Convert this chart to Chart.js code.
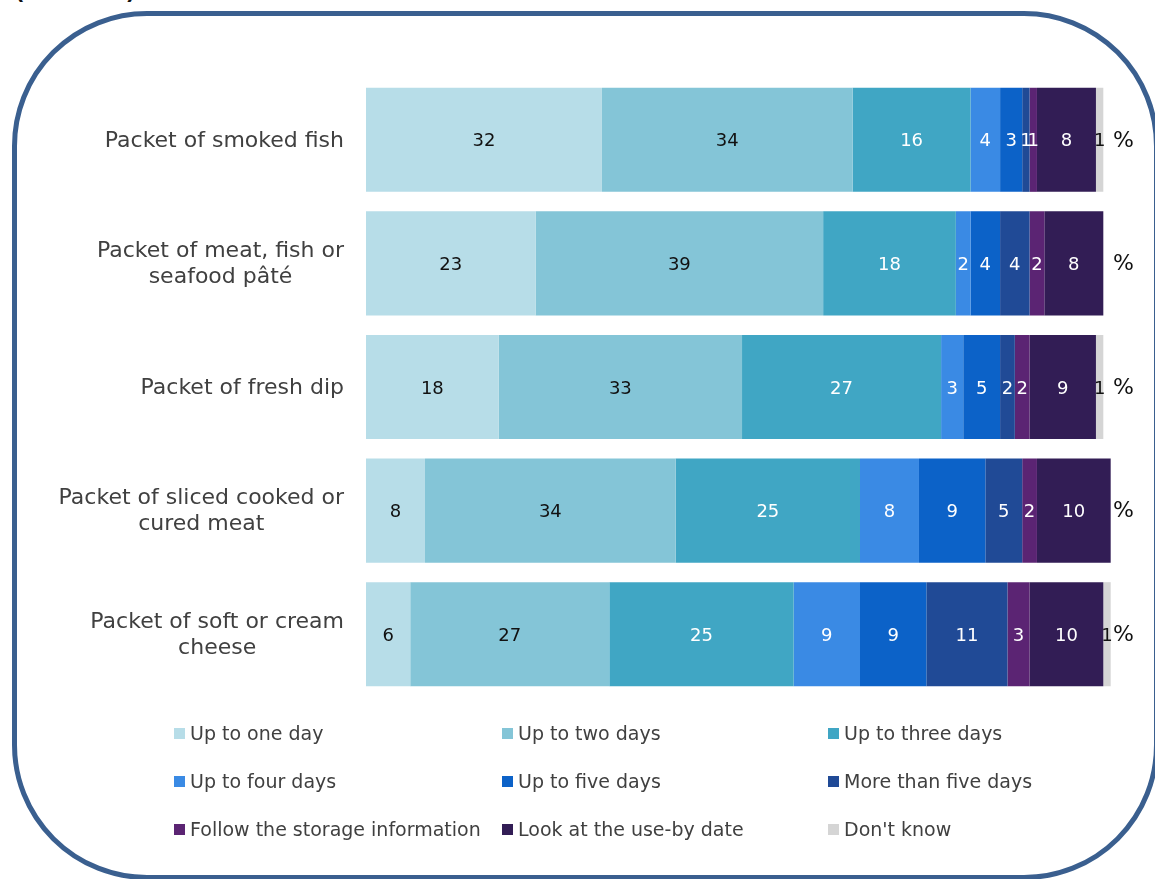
<!DOCTYPE html>
<html>
<head>
<meta charset="utf-8">
<title>Storage times for chilled packets</title>
<script src="https://cdn.jsdelivr.net/npm/chart.js@4.4.1/dist/chart.umd.min.js"></script>
<style>
  html, body { margin: 0; padding: 0; background: #fff; overflow: hidden; }
  body { width: 1155px; height: 879px; position: relative; font-family: 'DejaVu Sans', Verdana, sans-serif; }
  #topNote { position: absolute; left: 15px; top: -19px; font-size: 21px; font-weight: bold; line-height: 22px; color: #111; }
  #frame {
    position: absolute; left: 12px; top: 11px; width: 1147px; height: 869px;
    box-sizing: border-box; border: 5px solid #3A5F8F; border-radius: 135px;
  }
  #wrap { position: absolute; left: 0; top: 0; width: 1155px; height: 879px; }
  #legend {
    position: absolute; left: 174px; top: 709px;
    display: grid; grid-template-columns: 328px 326px 300px; grid-auto-rows: 48px;
    font-size: 19px; color: #404040;
  }
  .item { display: flex; align-items: center; white-space: nowrap; }
  .swatch { width: 11px; height: 11px; margin-right: 5px; flex: none; }
</style>
</head>
<body>
<div id="topNote">(Base: all)</div>
<div id="frame"></div>
<div id="wrap"><canvas id="storageChart"></canvas></div>
<div id="legend"></div>

<script>
// categories and answer shares (%)
const categories = [
  'Packet of smoked fish',
  ['Packet of meat, fish or', 'seafood pâté'],
  'Packet of fresh dip',
  ['Packet of sliced cooked or', 'cured meat'],
  ['Packet of soft or cream', 'cheese']
];

const seriesNames = [
  'Up to one day', 'Up to two days', 'Up to three days',
  'Up to four days', 'Up to five days', 'More than five days',
  'Follow the storage information', 'Look at the use-by date', "Don't know"
];

const upToOneDay      = [32, 23, 18, 8, 6];
const upToTwoDays     = [34, 39, 33, 34, 27];
const upToThreeDays   = [16, 18, 27, 25, 25];
const upToFourDays    = [4, 2, 3, 8, 9];
const upToFiveDays    = [3, 4, 5, 9, 9];
const moreThanFive    = [1, 4, 2, 5, 11];
const followStorage   = [1, 2, 2, 2, 3];
const lookAtUseBy     = [8, 8, 9, 10, 10];
const dontKnow        = [1, 0, 1, 0, 1];

const seriesValues = [upToOneDay, upToTwoDays, upToThreeDays, upToFourDays,
  upToFiveDays, moreThanFive, followStorage, lookAtUseBy, dontKnow];

const colors = ['#B7DDE8', '#84C5D7', '#40A6C4', '#3A8AE4', '#0C62C8',
  '#204A96', '#5B2473', '#321D55', '#D5D5D5'];

// light segments get dark numbers
const darkText = [0, 1, 8];

const FONT = "'DejaVu Sans', Verdana, sans-serif";

// numbers inside segments, "%" after each bar, wrapped category labels
const barText = {
  id: 'barText',
  afterDatasetsDraw(chart) {
    const { ctx, chartArea } = chart;
    const yScale = chart.scales.y;
    ctx.save();
    ctx.textBaseline = 'middle';

    ctx.font = '18px ' + FONT;
    ctx.textAlign = 'center';
    chart.data.datasets.forEach((ds, i) => {
      chart.getDatasetMeta(i).data.forEach((bar, j) => {
        const v = ds.data[j];
        if (!v) return;
        const { x, base, y } = bar.getProps(['x', 'base', 'y'], true);
        ctx.fillStyle = darkText.includes(i) ? '#111' : '#fff';
        ctx.fillText(String(v), (x + base) / 2, y + 2);
      });
    });

    chart.data.labels.forEach((lab, j) => {
      const cy = yScale.getPixelForValue(j);

      ctx.font = '22px ' + FONT;
      ctx.textAlign = 'left';
      ctx.fillStyle = '#111';
      ctx.fillText('%', chartArea.right + 6, cy + 1);

      const lines = Array.isArray(lab) ? lab : [lab];
      ctx.font = '22px ' + FONT;
      ctx.fillStyle = '#404040';
      const w = Math.max(...lines.map(l => ctx.measureText(l).width));
      const cx = chartArea.left - 22 - w / 2;
      ctx.textAlign = 'center';
      lines.forEach((l, k) => {
        ctx.fillText(l, cx, cy + 1 + (k - (lines.length - 1) / 2) * 26);
      });
    });
    ctx.restore();
  }
};

const chart = new Chart(document.getElementById('storageChart'), {
  type: 'bar',
  data: {
    labels: categories,
    datasets: seriesValues.map((vals, i) => ({
      label: seriesNames[i],
      data: vals,
      backgroundColor: colors[i],
      borderWidth: 0,
      categoryPercentage: 1,
      barPercentage: 0.842,
      clip: false
    }))
  },
  options: {
    indexAxis: 'y',
    responsive: true,
    maintainAspectRatio: false,
    animation: false,
    layout: { padding: { left: 366, right: 48, top: 78, bottom: 183 } },
    plugins: {
      legend: { display: false },
      tooltip: { enabled: false }
    },
    scales: {
      x: { stacked: true, min: 0, max: 100.5, display: false },
      y: { stacked: true, display: false }
    }
  },
  plugins: [barText]
});

// three-column legend under the bars
const legendBox = document.getElementById('legend');
seriesNames.forEach((name, i) => {
  const item = document.createElement('div');
  item.className = 'item';
  const sw = document.createElement('span');
  sw.className = 'swatch';
  sw.style.background = colors[i];
  const txt = document.createElement('span');
  txt.textContent = name;
  item.appendChild(sw);
  item.appendChild(txt);
  legendBox.appendChild(item);
});
</script>
</body>
</html>
